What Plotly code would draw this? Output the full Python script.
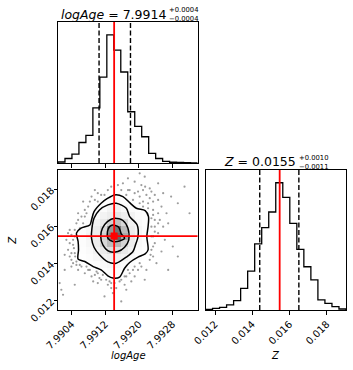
import numpy as np
import plotly.graph_objects as go

# ---------------- data ----------------
logage_range = [7.99007, 7.99340]
z_range = [0.01149, 0.01903]
n_bins = 20

logage_counts = [8, 35, 70, 160, 215, 430, 670, 1000, 880, 710,
                 400, 285, 205, 75, 35, 13, 6, 4, 2, 1]
z_counts = [5, 13, 21, 40, 73, 170, 306, 520, 647, 770,
            1000, 885, 680, 476, 340, 236, 79, 52, 26, 8]

logage_quantiles = [7.99105, 7.99180]
z_quantiles = [0.01440, 0.01650]
truth_logage = 7.99141
truth_z = 0.01547

logage_ticks = [7.9904, 7.9912, 7.9920, 7.9928]
logage_ticktext = ["7.9904", "7.9912", "7.9920", "7.9928"]
z_ticks = [0.012, 0.014, 0.016, 0.018]
z_ticktext = ["0.012", "0.014", "0.016", "0.018"]

title_logage = ["<i>logAge</i> = 7.9914", "+0.0004", "\u22120.0004"]
title_z = ["<i>Z</i> = 0.0155", "+0.0010", "\u22120.0011"]

# 2D density (relative), rows from top (bin rows 3..15), columns bins 2..12
density_col_start = 2
density_row_top = 3
density_grid = [
    [0, 0, 0, 0, 0, 0.06, 0.12, 0.06, 0, 0, 0],
    [0, 0, 0, 0.05, 0.12, 0.16, 0.20, 0.16, 0.12, 0.05, 0],
    [0, 0, 0.05, 0.12, 0.18, 0.30, 0.33, 0.25, 0.18, 0.12, 0.05],
    [0, 0, 0.10, 0.18, 0.30, 0.38, 0.45, 0.38, 0.30, 0.18, 0.14],
    [0, 0.10, 0.16, 0.30, 0.42, 0.60, 0.68, 0.55, 0.35, 0.22, 0.14],
    [0.08, 0.15, 0.25, 0.38, 0.55, 0.85, 0.95, 0.70, 0.40, 0.26, 0.15],
    [0.10, 0.16, 0.28, 0.40, 0.60, 0.90, 1.00, 0.78, 0.42, 0.27, 0.15],
    [0.08, 0.15, 0.25, 0.38, 0.55, 0.70, 0.72, 0.58, 0.38, 0.22, 0.13],
    [0.05, 0.13, 0.20, 0.32, 0.42, 0.50, 0.50, 0.42, 0.30, 0.18, 0.10],
    [0, 0.10, 0.15, 0.25, 0.32, 0.36, 0.35, 0.30, 0.20, 0.12, 0.05],
    [0, 0, 0.10, 0.16, 0.22, 0.26, 0.25, 0.20, 0.13, 0.05, 0],
    [0, 0, 0, 0.06, 0.14, 0.18, 0.18, 0.13, 0.06, 0, 0],
    [0, 0, 0, 0, 0.05, 0.10, 0.10, 0.05, 0, 0, 0],
]

# contour outlines (2.0, 1.5, 1.0, 0.5 sigma)
contour_outer_x = [7.99142, 7.99162, 7.99178, 7.99194, 7.99215, 7.99223, 7.99222, 7.99219, 7.99222, 7.99215,
                   7.99198, 7.99178, 7.99166, 7.99154, 7.99138, 7.99126, 7.99110, 7.99091, 7.99071, 7.99055,
                   7.99056, 7.99055, 7.99051, 7.99061, 7.99083, 7.99087, 7.99093, 7.99110, 7.99126, 7.99142]
contour_outer_y = [0.01769, 0.01760, 0.01727, 0.01697, 0.01684, 0.01652, 0.01598, 0.01545, 0.01473, 0.01451,
                   0.01434, 0.01405, 0.01374, 0.01326, 0.01321, 0.01333, 0.01365, 0.01383, 0.01410, 0.01423,
                   0.01473, 0.01518, 0.01563, 0.01589, 0.01607, 0.01634, 0.01679, 0.01724, 0.01751, 0.01769]
contour_15_x = [7.99146, 7.99170, 7.99178, 7.99196, 7.99198, 7.99192, 7.99186, 7.99170, 7.99146, 7.99126,
                7.99106, 7.99093, 7.99087, 7.99088, 7.99093, 7.99106, 7.99126, 7.99146]
contour_15_y = [0.01724, 0.01697, 0.01652, 0.01607, 0.01545, 0.01500, 0.01464, 0.01434, 0.01401, 0.01408,
                0.01446, 0.01487, 0.01536, 0.01589, 0.01643, 0.01688, 0.01715, 0.01724]
contour_10_x = [7.99142, 7.99162, 7.99174, 7.99176, 7.99166, 7.99150, 7.99130, 7.99114, 7.99109, 7.99113,
                7.99125, 7.99142]
contour_10_y = [0.01643, 0.01631, 0.01589, 0.01527, 0.01487, 0.01464, 0.01464, 0.01500, 0.01545, 0.01589,
                0.01625, 0.01643]
contour_05_x = [7.99138, 7.99152, 7.99158, 7.99166, 7.99154, 7.99138, 7.99126, 7.99125, 7.99130, 7.99138]
contour_05_y = [0.01607, 0.01595, 0.01559, 0.01536, 0.01521, 0.01518, 0.01536, 0.01571, 0.01598, 0.01607]

# samples visible outside the outer contour
points_x = [7.99202, 7.99174, 7.99162, 7.99190, 7.99206, 7.99215, 7.99226, 7.99230, 7.99238, 7.99246,
            7.99178, 7.99158, 7.99126, 7.99102, 7.99087, 7.99067, 7.99079, 7.99222, 7.99246, 7.99254,
            7.99266, 7.99234, 7.99277, 7.99293, 7.99270, 7.99238, 7.99246, 7.99262, 7.99238, 7.99254,
            7.99234, 7.99242, 7.99218, 7.99198, 7.99190, 7.99182, 7.99166, 7.99146, 7.99126, 7.99102,
            7.99087, 7.99071, 7.99055, 7.99043, 7.99039, 7.99035, 7.99039, 7.99047, 7.99051, 7.99063,
            7.99075, 7.99031, 7.99043, 7.99023, 7.99019, 7.99015, 7.99118, 7.99138, 7.99158, 7.99170,
            7.99214, 7.99293, 7.99281, 7.99309, 7.99202, 7.99218, 7.99170, 7.99102, 7.99059, 7.99039,
            7.99063, 7.99079, 7.99095, 7.99110, 7.99122, 7.99158, 7.99178, 7.99206, 7.99230, 7.99238,
            7.99210, 7.99198, 7.99186, 7.99118, 7.99095, 7.99071, 7.99055, 7.99035, 7.99047, 7.99051,
            7.99075, 7.99102, 7.99134, 7.99170, 7.99190, 7.99226, 7.99234, 7.99230, 7.99246, 7.99258,
            7.99234, 7.99011, 7.99047, 7.99270, 7.99321, 7.99214,
            7.99047, 7.99043, 7.99045, 7.99048, 7.99035, 7.99027, 7.99031, 7.99051, 7.99059, 7.99023,
            7.99039, 7.99083, 7.99099, 7.99114, 7.99130, 7.99142, 7.99154, 7.99166, 7.99174, 7.99186,
            7.99202, 7.99134, 7.99106, 7.99091, 7.99230, 7.99234, 7.99228, 7.99238, 7.99246, 7.99230,
            7.99234, 7.99222, 7.99210, 7.99202, 7.99190, 7.99174, 7.99210, 7.99226, 7.99258, 7.99250,
            7.99110, 7.99083, 7.99071, 7.99055, 7.99067, 7.99095, 7.99134, 7.99150]
points_y = [0.01885, 0.01858, 0.01831, 0.01840, 0.01822, 0.01813, 0.01804, 0.01787, 0.01769, 0.01831,
            0.01795, 0.01795, 0.01795, 0.01778, 0.01760, 0.01733, 0.01706, 0.01724, 0.01742, 0.01706,
            0.01670, 0.01688, 0.01760, 0.01724, 0.01616, 0.01598, 0.01563, 0.01527, 0.01509, 0.01464,
            0.01437, 0.01401, 0.01365, 0.01365, 0.01330, 0.01303, 0.01285, 0.01267, 0.01285, 0.01294,
            0.01330, 0.01347, 0.01365, 0.01401, 0.01455, 0.01509, 0.01554, 0.01580, 0.01616, 0.01652,
            0.01670, 0.01473, 0.01500, 0.01365, 0.01231, 0.01258, 0.01222, 0.01240, 0.01195, 0.01258,
            0.01312, 0.01437, 0.01491, 0.01813, 0.01724, 0.01769, 0.01769, 0.01733, 0.01589, 0.01419,
            0.01383, 0.01365, 0.01338, 0.01312, 0.01312, 0.01312, 0.01347, 0.01383, 0.01473, 0.01634,
            0.01733, 0.01787, 0.01742, 0.01769, 0.01742, 0.01688, 0.01634, 0.01580, 0.01455, 0.01392,
            0.01383, 0.01347, 0.01294, 0.01330, 0.01383, 0.01419, 0.01545, 0.01643, 0.01670, 0.01598,
            0.01733, 0.01294, 0.01285, 0.01365, 0.01670, 0.01867,
            0.01545, 0.01527, 0.01482, 0.01437, 0.01437, 0.01527, 0.01563, 0.01410, 0.01392, 0.01446,
            0.01383, 0.01365, 0.01356, 0.01338, 0.01303, 0.01294, 0.01303, 0.01330, 0.01365, 0.01365,
            0.01401, 0.01267, 0.01321, 0.01303, 0.01545, 0.01491, 0.01446, 0.01571, 0.01616, 0.01598,
            0.01661, 0.01697, 0.01706, 0.01760, 0.01778, 0.01795, 0.01795, 0.01751, 0.01778, 0.01634,
            0.01769, 0.01733, 0.01652, 0.01670, 0.01616, 0.01795, 0.01813, 0.01822]

# ---------------- figure ----------------
la_edges = np.linspace(logage_range[0], logage_range[1], n_bins + 1)
z_edges = np.linspace(z_range[0], z_range[1], n_bins + 1)
la_centers = 0.5 * (la_edges[:-1] + la_edges[1:])
z_centers = 0.5 * (z_edges[:-1] + z_edges[1:])


def step(edges, counts):
    xs = [edges[0]] + list(edges)
    ys = [0] + list(counts) + [0]
    return xs, ys


fig = go.Figure()

sx, sy = step(la_edges, logage_counts)
fig.add_trace(go.Scatter(x=sx, y=sy, mode="lines", line=dict(color="black", width=1.3, shape="hv"),
                         xaxis="x", yaxis="y", showlegend=False, hoverinfo="skip"))

sx, sy = step(z_edges, z_counts)
fig.add_trace(go.Scatter(x=sx, y=sy, mode="lines", line=dict(color="black", width=1.3, shape="hv"),
                         xaxis="x3", yaxis="y3", showlegend=False, hoverinfo="skip"))

# density image
nrows = len(density_grid)
ncols = len(density_grid[0])
row_bins = [n_bins - 1 - (density_row_top + r) for r in range(nrows)]
heat_y = [z_centers[k] for k in row_bins][::-1]
heat_z = density_grid[::-1]
heat_x = list(la_centers[density_col_start:density_col_start + ncols])
gray_scale = [[0.0, "rgba(255,255,255,0)"], [0.2, "rgb(250,250,250)"], [0.4, "rgb(236,236,236)"],
              [0.6, "rgb(208,208,208)"], [0.8, "rgb(165,165,165)"], [1.0, "rgb(100,100,100)"]]
fig.add_trace(go.Heatmap(x=heat_x, y=heat_y, z=heat_z, zmin=0, zmax=1, colorscale=gray_scale,
                         showscale=False, zsmooth=False, xaxis="x2", yaxis="y2", hoverinfo="skip"))

fig.add_trace(go.Scatter(x=points_x, y=points_y, mode="markers",
                         marker=dict(color="rgba(60,60,60,0.5)", size=2.2),
                         xaxis="x2", yaxis="y2", showlegend=False, hoverinfo="skip"))

for cx, cy in [(contour_outer_x, contour_outer_y), (contour_15_x, contour_15_y),
               (contour_10_x, contour_10_y), (contour_05_x, contour_05_y)]:
    fig.add_trace(go.Scatter(x=cx, y=cy, mode="lines",
                             line=dict(color="black", width=1.5, shape="spline", smoothing=0.8),
                             xaxis="x2", yaxis="y2", showlegend=False, hoverinfo="skip"))

fig.add_trace(go.Scatter(x=[truth_logage], y=[truth_z], mode="markers",
                         marker=dict(symbol="square", color="red", size=7),
                         xaxis="x2", yaxis="y2", showlegend=False, hoverinfo="skip"))

shapes = []
for q in logage_quantiles:
    shapes.append(dict(type="line", xref="x", yref="y domain", x0=q, x1=q, y0=0, y1=1,
                       line=dict(color="black", width=1.4, dash="5px,2.5px")))
shapes.append(dict(type="line", xref="x", yref="y domain", x0=truth_logage, x1=truth_logage, y0=0, y1=1,
                   line=dict(color="red", width=1.8)))
for q in z_quantiles:
    shapes.append(dict(type="line", xref="x3", yref="y3 domain", x0=q, x1=q, y0=0, y1=1,
                       line=dict(color="black", width=1.4, dash="5px,2.5px")))
shapes.append(dict(type="line", xref="x3", yref="y3 domain", x0=truth_z, x1=truth_z, y0=0, y1=1,
                   line=dict(color="red", width=1.8)))
shapes.append(dict(type="line", xref="x2", yref="y2 domain", x0=truth_logage, x1=truth_logage, y0=0, y1=1,
                   line=dict(color="red", width=1.8)))
shapes.append(dict(type="line", xref="x2 domain", yref="y2", x0=0, x1=1, y0=truth_z, y1=truth_z,
                   line=dict(color="red", width=1.8)))

font = "DejaVu Sans"
base = dict(showgrid=False, zeroline=False, showline=True, linecolor="black", linewidth=1,
            mirror=True, ticks="outside", ticklen=3.5, tickwidth=1, tickcolor="black",
            automargin=False,
            tickfont=dict(family=font, size=10, color="black"))

xl = [0, 0.4844]
xr = [0.5122, 1]
yt = [0.5104, 1]
yb = [0, 0.4861]

fig.update_layout(
    width=353, height=370,
    margin=dict(l=58, r=7, t=22, b=60, autoexpand=False),
    paper_bgcolor="white", plot_bgcolor="white",
    showlegend=False,
    xaxis=dict(base, domain=xl, anchor="y", range=logage_range, tickvals=logage_ticks,
               showticklabels=False),
    yaxis=dict(base, domain=yt, anchor="x", range=[0, 1.1 * max(logage_counts)],
               ticks="", showticklabels=False),
    xaxis2=dict(base, domain=xl, anchor="y2", range=logage_range, tickvals=logage_ticks,
                ticktext=logage_ticktext, tickangle=-45),
    yaxis2=dict(base, domain=yb, anchor="x2", range=z_range, tickvals=z_ticks,
                ticktext=z_ticktext, tickangle=-45),
    xaxis3=dict(base, domain=xr, anchor="y3", range=z_range, tickvals=z_ticks,
                ticktext=z_ticktext, tickangle=-45),
    yaxis3=dict(base, domain=yb, anchor="x3", range=[0, 1.1 * max(z_counts)],
                ticks="", showticklabels=False),
    shapes=shapes,
)


def px_x(p):
    return (p - 58) / 288.0


def px_y(p):
    return (310 - p) / 288.0


main_size = 12.5
script_size = 6.8
ann = []
# titles (main text plus stacked super/subscript)
ann.append(dict(text=title_logage[0], x=px_x(167), y=px_y(14), xanchor="right", yanchor="middle",
                font=dict(family=font, size=main_size, color="black")))
ann.append(dict(text=title_logage[1] + "<br>" + title_logage[2], x=px_x(168), y=px_y(14.6),
                xanchor="left", yanchor="middle", align="left",
                font=dict(family=font, size=script_size, color="black")))
ann.append(dict(text=title_z[0], x=px_x(297), y=px_y(161.5), xanchor="right", yanchor="middle",
                font=dict(family=font, size=main_size, color="black")))
ann.append(dict(text=title_z[1] + "<br>" + title_z[2], x=px_x(298), y=px_y(162),
                xanchor="left", yanchor="middle", align="left",
                font=dict(family=font, size=script_size, color="black")))
# axis labels
ann.append(dict(text="<i>logAge</i>", x=px_x(128), y=px_y(355.5), xanchor="center", yanchor="middle",
                font=dict(family=font, size=10, color="black")))
ann.append(dict(text="<i>Z</i>", x=px_x(275.5), y=px_y(355), xanchor="center", yanchor="middle",
                font=dict(family=font, size=10, color="black")))
ann.append(dict(text="<i>Z</i>", x=px_x(11.7), y=px_y(240), xanchor="center", yanchor="middle",
                textangle=-90, font=dict(family=font, size=10, color="black")))
for a in ann:
    a.update(xref="paper", yref="paper", showarrow=False, borderpad=0)
fig.update_layout(annotations=ann)

# place the figure at the window's top-left corner (no default page margin), no mode bar
fig.write_html("out.html", config={"displayModeBar": False},
               post_script="document.body.style.margin='0px';")
